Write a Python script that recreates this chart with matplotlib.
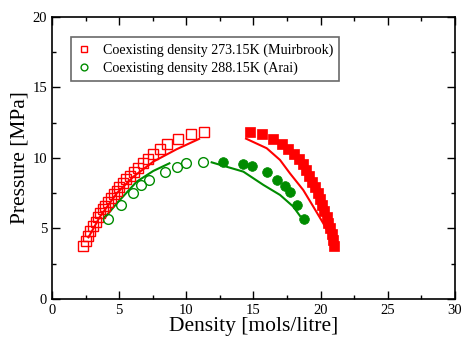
import matplotlib
matplotlib.use("Agg")
import matplotlib.pyplot as plt
from matplotlib.ticker import MultipleLocator

plt.rcParams['font.family'] = ['Liberation Serif', 'DejaVu Serif']

# Muirbrook 273.15K coexisting densities (open: vapour, filled: liquid)
muir_vap_x = [2.33, 2.51, 2.66, 2.83, 3.03, 3.25, 3.40, 3.57, 3.77, 3.97, 4.19, 4.39, 4.62, 4.82,
              5.01, 5.26, 5.51, 5.81, 6.10, 6.43, 6.75, 7.12, 7.54, 8.04, 8.58, 9.36, 10.35, 11.30]
muir_vap_y = [3.76, 4.13, 4.47, 4.82, 5.18, 5.48, 5.79, 6.08, 6.36, 6.60, 6.90, 7.14, 7.45, 7.68,
              7.96, 8.20, 8.49, 8.72, 9.03, 9.31, 9.62, 9.91, 10.28, 10.62, 10.99, 11.33, 11.68, 11.84]
muir_liq_x = [14.74, 15.66, 16.48, 17.10, 17.60, 18.05, 18.40, 18.67, 18.91, 19.16, 19.38, 19.58,
              19.78, 19.96, 20.13, 20.28, 20.45, 20.57, 20.70, 20.82, 20.95, 21.00]
muir_liq_y = [11.84, 11.68, 11.33, 10.99, 10.62, 10.26, 9.91, 9.55, 9.15, 8.72, 8.32, 7.92,
              7.50, 7.07, 6.67, 6.24, 5.84, 5.41, 5.01, 4.61, 4.18, 3.78]

# Arai 288.15K coexisting densities
arai_vap_x = [4.17, 5.11, 6.01, 6.65, 7.25, 8.41, 9.28, 9.98, 11.27]
arai_vap_y = [5.65, 6.69, 7.54, 8.06, 8.44, 9.03, 9.39, 9.62, 9.72]
arai_liq_x = [12.71, 14.25, 14.92, 15.99, 16.78, 17.35, 17.72, 18.27, 18.76]
arai_liq_y = [9.74, 9.57, 9.43, 9.03, 8.44, 8.01, 7.61, 6.69, 5.67]

# Simulation curves
sim273_vap_x = [2.71, 3.57, 4.82, 6.05, 7.54, 9.28, 10.95]
sim273_vap_y = [4.37, 5.84, 7.50, 8.67, 9.74, 10.62, 11.35]
sim273_liq_x = [14.45, 15.99, 16.98, 17.72, 18.71, 19.46, 20.20, 20.75]
sim273_liq_y = [11.37, 10.69, 9.86, 8.91, 7.73, 6.55, 5.37, 4.42]
sim288_vap_x = [3.95, 4.82, 6.30, 7.54, 8.74]
sim288_vap_y = [5.79, 6.78, 8.32, 9.08, 9.62]
sim288_liq_x = [11.89, 14.25, 15.74, 16.98, 17.97, 18.47]
sim288_liq_y = [9.69, 9.03, 8.09, 7.38, 6.55, 5.89]

red = '#ff0000'
green = '#008c00'

fig = plt.figure(figsize=(4.65, 3.39), dpi=100)
ax = fig.add_axes([0.112, 0.118, 0.866, 0.832])

ax.plot(sim273_vap_x, sim273_vap_y, color=red, lw=1.5)
ax.plot(sim273_liq_x, sim273_liq_y, color=red, lw=1.5)
ax.plot(sim288_vap_x, sim288_vap_y, color=green, lw=1.5)
ax.plot(sim288_liq_x, sim288_liq_y, color=green, lw=1.5)

ax.plot(muir_vap_x, muir_vap_y, 's', ms=6.5, mfc='none', mec=red, mew=1.0,
        label='Coexisting density 273.15K (Muirbrook)')
ax.plot(muir_liq_x, muir_liq_y, 's', ms=7, mfc=red, mec=red, mew=0.5)
ax.plot(arai_vap_x, arai_vap_y, 'o', ms=7, mfc='none', mec=green, mew=1.0,
        label='Coexisting density 288.15K (Arai)')
ax.plot(arai_liq_x, arai_liq_y, 'o', ms=7, mfc=green, mec=green, mew=0.5)

ax.set_xlim(0, 30)
ax.set_ylim(0, 20)
ax.xaxis.set_major_locator(MultipleLocator(5))
ax.xaxis.set_minor_locator(MultipleLocator(2.5))
ax.yaxis.set_major_locator(MultipleLocator(5))
ax.yaxis.set_minor_locator(MultipleLocator(2.5))
ax.tick_params(which='both', direction='in', top=True, right=True, labelsize=10.5, width=1)
ax.tick_params(which='major', length=6)
ax.tick_params(which='minor', length=3)
for s in ax.spines.values():
    s.set_linewidth(1.2)

ax.set_xlabel('Density [mols/litre]', fontsize=15.5, labelpad=0)
ax.set_ylabel('Pressure [MPa]', fontsize=15.5, labelpad=2)

leg = ax.legend(loc='upper left', bbox_to_anchor=(0.047, 0.929), borderaxespad=0,
                fontsize=10.1, frameon=True,
                fancybox=False, edgecolor='#444444', handlelength=1.0, handletextpad=0.8,
                borderpad=0.45, labelspacing=0.35, markerscale=0.7)
leg.get_frame().set_linewidth(1.2)

fig.savefig('out.png', dpi=100)
